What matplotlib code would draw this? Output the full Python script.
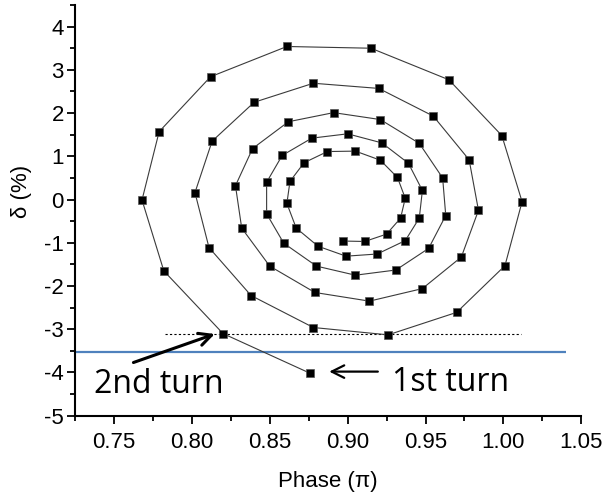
import matplotlib
matplotlib.use('Agg')
import matplotlib.pyplot as plt
from matplotlib.ticker import MultipleLocator

# spiral, from outer turn inward (clockwise)
phase = [0.876, 0.820, 0.782, 0.768, 0.779, 0.812, 0.861, 0.915, 0.965, 0.999,
         1.012, 1.001, 0.970, 0.926,
         0.878, 0.838, 0.811, 0.802, 0.813, 0.840, 0.878, 0.920, 0.955, 0.978,
         0.984, 0.973, 0.948, 0.914,
         0.879, 0.850, 0.832, 0.828, 0.839, 0.862, 0.891, 0.921, 0.946, 0.961,
         0.963, 0.952, 0.931, 0.905,
         0.880, 0.859, 0.848, 0.848, 0.858, 0.877, 0.900, 0.922, 0.939, 0.948,
         0.946, 0.937, 0.919, 0.899,
         0.881, 0.867, 0.861, 0.863, 0.872, 0.887, 0.905, 0.921, 0.932, 0.937,
         0.934, 0.925, 0.911, 0.897]
delta = [-4.02, -3.10, -1.65, -0.01, 1.57, 2.84, 3.54, 3.50, 2.77, 1.48,
         -0.05, -1.53, -2.61, -3.13,
         -2.96, -2.22, -1.11, 0.16, 1.35, 2.25, 2.69, 2.57, 1.93, 0.92,
         -0.25, -1.33, -2.06, -2.35,
         -2.15, -1.54, -0.66, 0.32, 1.18, 1.80, 2.01, 1.85, 1.30, 0.50,
         -0.37, -1.13, -1.63, -1.75,
         -1.54, -1.01, -0.33, 0.40, 1.02, 1.42, 1.52, 1.31, 0.84, 0.21,
         -0.43, -0.95, -1.26, -1.31,
         -1.08, -0.66, -0.09, 0.42, 0.85, 1.11, 1.12, 0.91, 0.51, 0.03,
         -0.43, -0.80, -0.97, -0.96]

blue_level = -3.52
dotted_level = -3.11

plt.rcParams['font.family'] = ['Liberation Sans', 'DejaVu Sans']
plt.rcParams['axes.unicode_minus'] = False

fig = plt.figure(figsize=(6.06, 4.94), dpi=100)
ax = fig.add_axes([0.1238, 0.1585, 0.8354, 0.8314])

ax.plot(phase, delta, color='#3a3a3a', lw=0.8, marker='s', ms=5.8,
        mfc='black', mec='#555555', mew=0.5, zorder=3)

ax.hlines(blue_level, 0.725, 1.04, color='#4f81bd', lw=1.6, zorder=2)
ax.hlines(dotted_level, 0.783, 1.011, color='black', lw=0.8,
          linestyles=(0, (2, 2)), zorder=1)

ax.annotate('', xy=(0.8147, -3.11), xytext=(0.7625, -3.77),
            arrowprops=dict(arrowstyle='->,head_length=0.9,head_width=0.45',
                            lw=2.2, color='black', shrinkA=0, shrinkB=0))
ax.annotate('', xy=(0.8882, -3.98), xytext=(0.9194, -3.98),
            arrowprops=dict(arrowstyle='->,head_length=0.9,head_width=0.45',
                            lw=1.6, color='black', shrinkA=0, shrinkB=0))
ax.text(0.737, -4.47, '2nd turn', fontsize=23, family='Open Sans',
        ha='left', va='baseline')
ax.text(0.9286, -4.42, '1st turn', fontsize=23, family='Open Sans',
        ha='left', va='baseline')

ax.set_xlim(0.725, 1.05)
ax.set_ylim(-5, 4.5)
ax.xaxis.set_major_locator(MultipleLocator(0.05))
ax.xaxis.set_minor_locator(MultipleLocator(0.025))
ax.yaxis.set_major_locator(MultipleLocator(1))
ax.yaxis.set_minor_locator(MultipleLocator(0.5))
ax.set_xticks([0.75, 0.80, 0.85, 0.90, 0.95, 1.00, 1.05])
ax.set_xticklabels(['0.75', '0.80', '0.85', '0.90', '0.95', '1.00', '1.05'])

ax.tick_params(which='major', direction='out', length=6, width=1.3,
               labelsize=16)
ax.tick_params(axis='x', which='major', pad=6)
ax.tick_params(axis='y', which='major', pad=2)
ax.tick_params(which='minor', direction='out', length=3.5, width=1.3)
for side in ['top', 'right']:
    ax.spines[side].set_visible(False)
for side in ['left', 'bottom']:
    ax.spines[side].set_linewidth(1.5)

ax.set_xlabel('Phase (π)', fontsize=16)
ax.set_ylabel('δ (%)', fontsize=16)
ax.xaxis.set_label_coords(0.5, -0.135)
ax.yaxis.set_label_coords(-0.085, 0.545)

fig.savefig('out.png', dpi=100)
